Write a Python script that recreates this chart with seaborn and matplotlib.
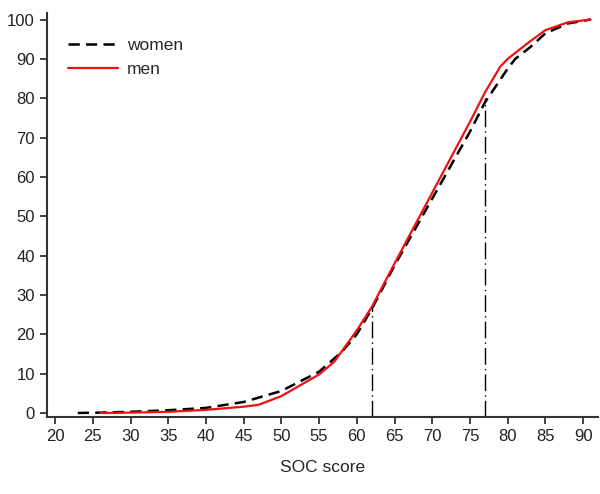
import numpy as np
import pandas as pd
import matplotlib
matplotlib.use("Agg")
import matplotlib.pyplot as plt
import seaborn as sns

# cumulative percentage by SOC score
women_x = [23, 26, 30, 35, 40, 45, 50, 55, 58, 60, 62, 65, 70, 75, 77, 80, 81, 83, 85, 88, 91]
women_y = [0, 0.1, 0.3, 0.7, 1.3, 2.8, 5.6, 10.5, 15.5, 20, 26.5, 37.5, 54.5, 71.5, 79, 87.5, 90, 93, 96.5, 99, 100]

men_x = [26, 30, 35, 40, 45, 47, 50, 52, 55, 57, 60, 62, 65, 70, 75, 77, 79, 80, 83, 85, 88, 91]
men_y = [0, 0.1, 0.3, 0.8, 1.6, 2.1, 4.3, 6.5, 9.8, 13, 21, 27, 38, 56, 74, 81.5, 88, 90, 94.5, 97.3, 99.3, 100]

cut_x = [62, 77]
cut_y = [27, 80]

sns.set_style("ticks")
plt.rcParams["font.family"] = ["Liberation Sans", "DejaVu Sans"]

women = pd.DataFrame({"score": women_x, "pct": women_y})
men = pd.DataFrame({"score": men_x, "pct": men_y})

fig, ax = plt.subplots(figsize=(6, 4.94), dpi=100)
fig.subplots_adjust(left=0.078, right=0.997, bottom=0.156, top=0.974)

sns.lineplot(data=women, x="score", y="pct", ax=ax, color="black", lw=1.8,
             linestyle=(0, (4.5, 2.5)), label="women", sort=False)
sns.lineplot(data=men, x="score", y="pct", ax=ax, color="#f01010", lw=1.6,
             label="men", sort=False)

ax.vlines(cut_x, -1, cut_y, colors="black", lw=1.0, linestyles=(0, (12, 3, 1, 3)))

ax.set_xlim(18.9, 92)
ax.set_ylim(-1, 101.7)
ax.set_xticks(range(20, 91, 5))
ax.set_yticks(range(0, 101, 10))
ax.tick_params(labelsize=12, length=5, width=1.2, colors="#222222")
for s in ["left", "bottom"]:
    ax.spines[s].set_linewidth(1.5)
    ax.spines[s].set_color("#333333")
sns.despine(ax=ax)

ax.set_xlabel("SOC score", fontsize=12.5, labelpad=12)
ax.set_ylabel("")

leg = ax.legend(loc="upper left", frameon=False, fontsize=12.5, handlelength=2.9,
                bbox_to_anchor=(0.01, 0.977), handletextpad=0.5, labelspacing=0.5)

fig.savefig("out.png", dpi=100)
